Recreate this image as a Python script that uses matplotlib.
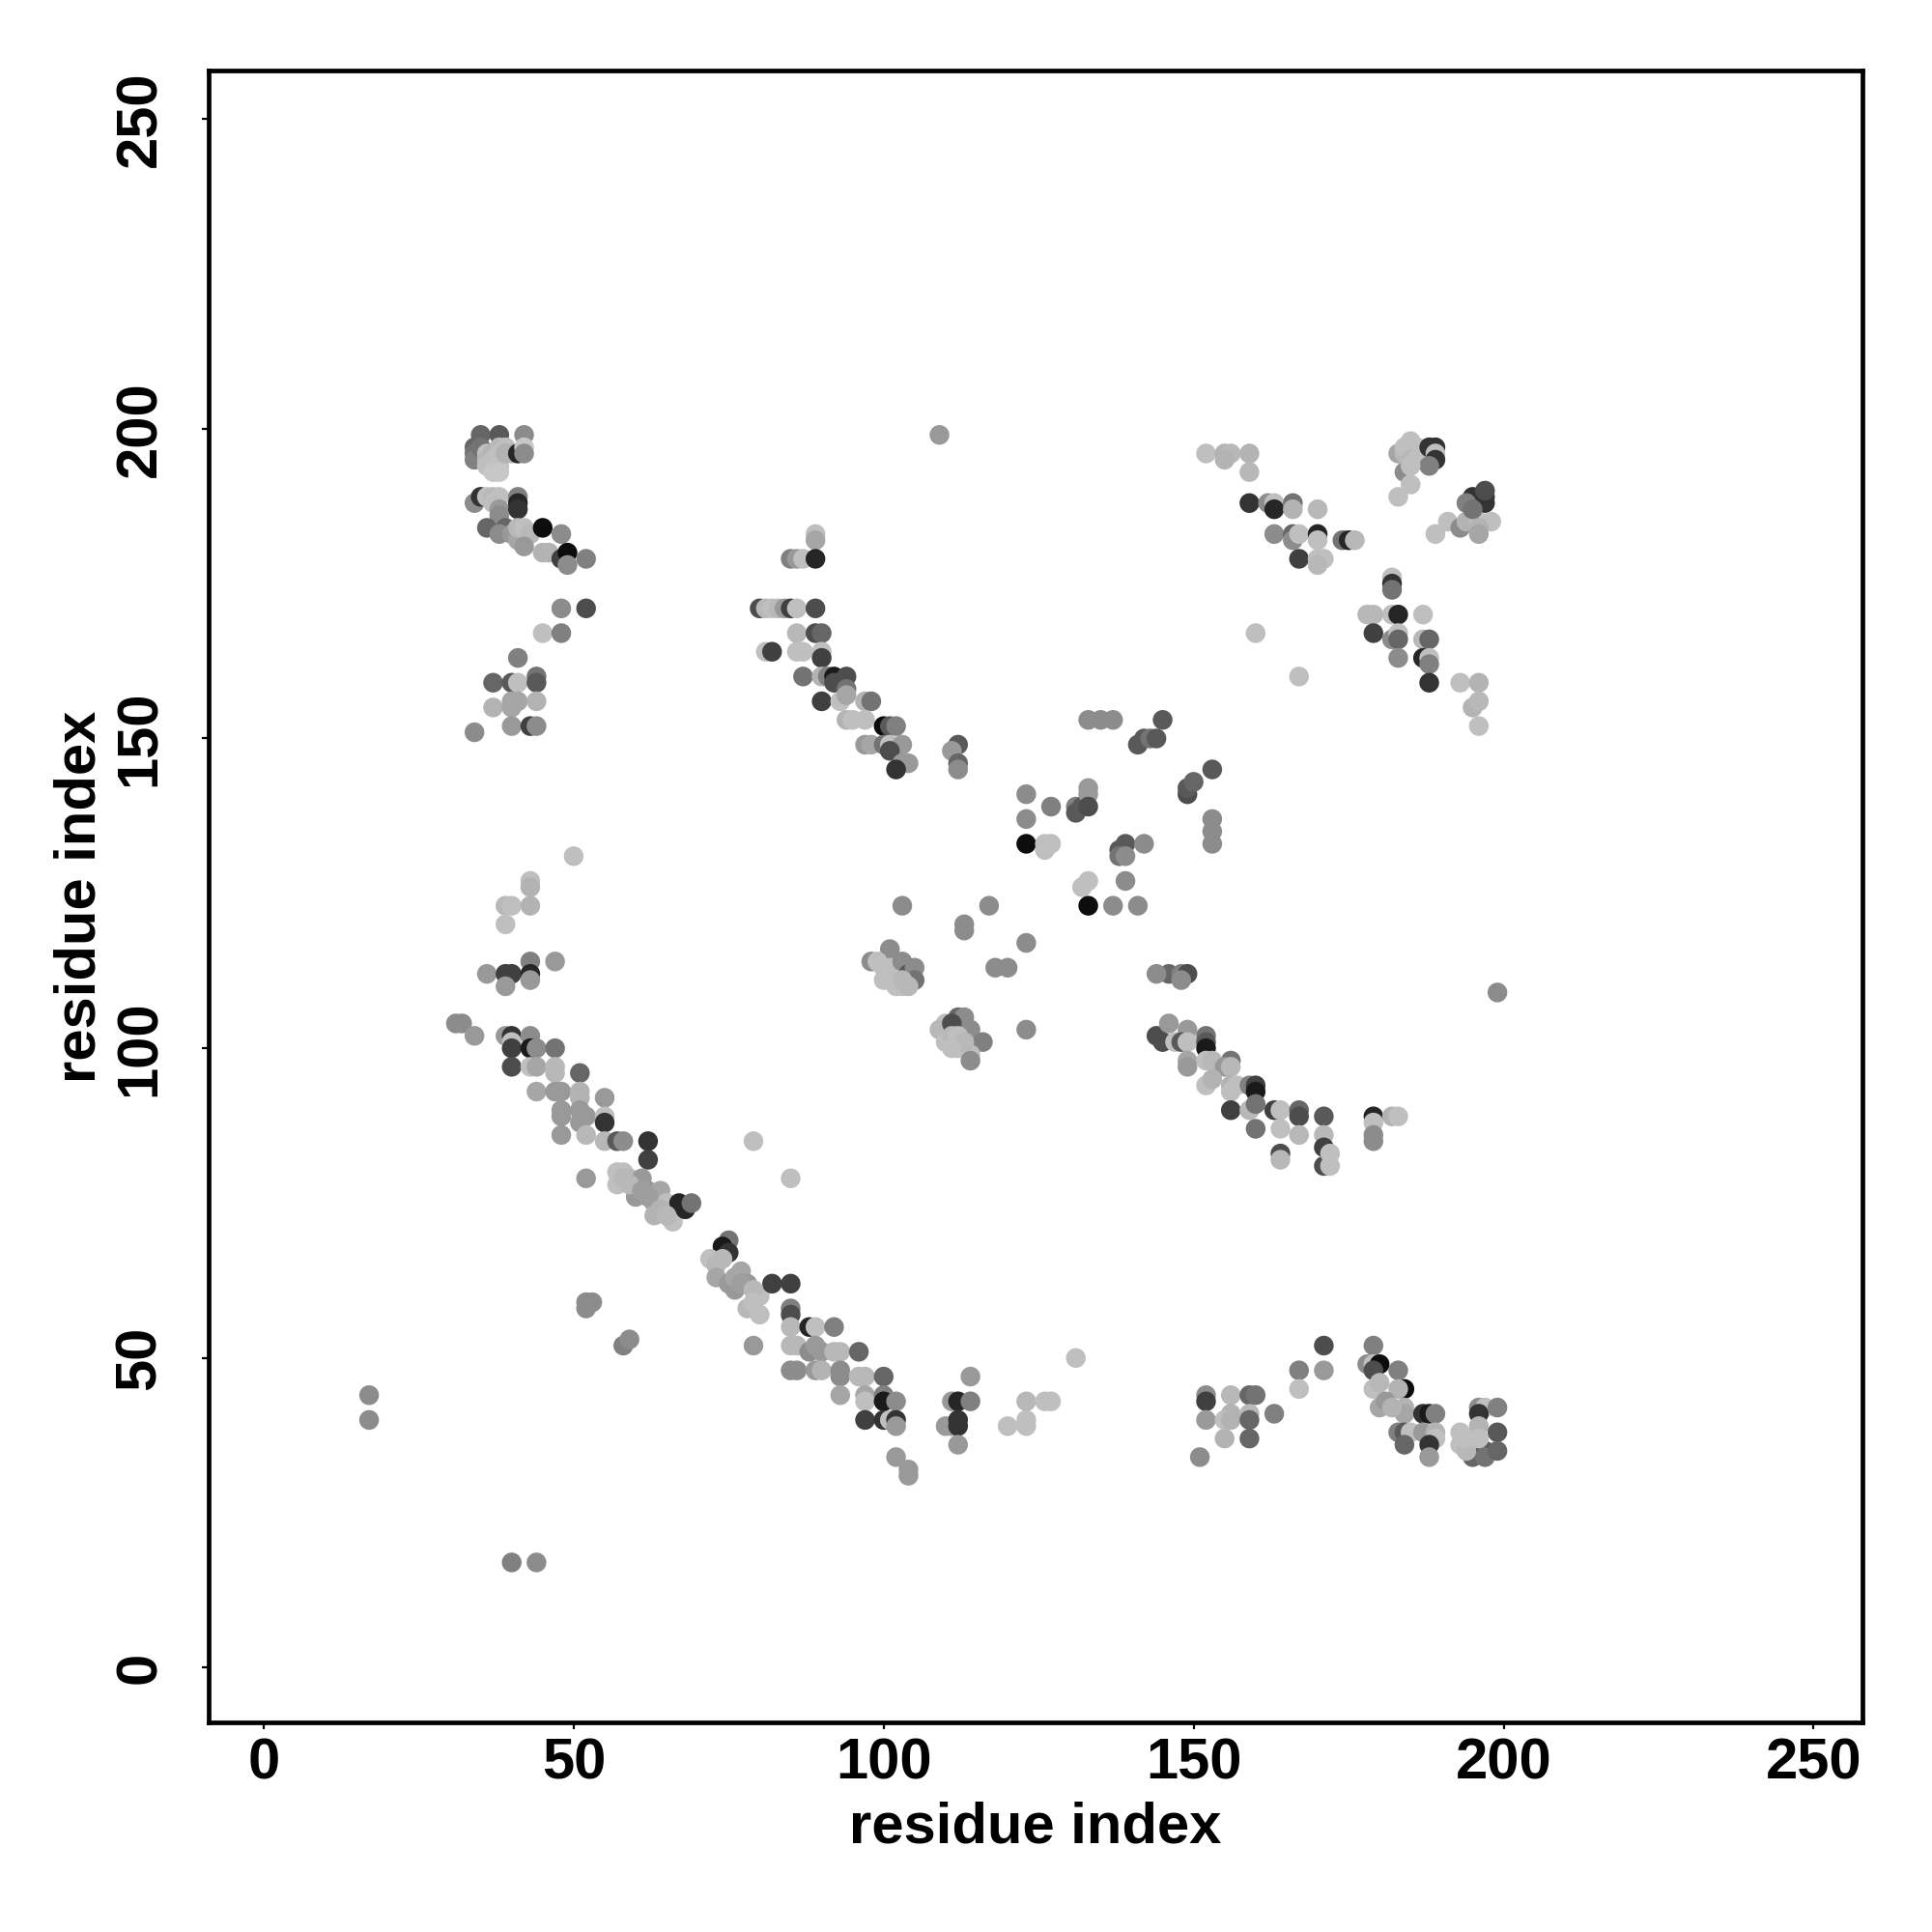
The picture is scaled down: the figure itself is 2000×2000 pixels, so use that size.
import matplotlib
matplotlib.use("Agg")
import matplotlib.pyplot as plt

plt.rcParams['font.family'] = ['Liberation Sans', 'DejaVu Sans']
plt.rcParams['font.weight'] = 'bold'

# (x residue, y residue, grey level 0=black 1=white)
cluster_top_left = [
    (35,199,.40),(38,199,.35),(42,199,.55),
    (34,197,.40),(34,196,.45),(34,195,.50),(35,197,.45),(36,196,.75),(36,195,.72),(36,194,.75),
    (37,196,.70),(37,195,.75),(37,194,.75),(37,193,.78),(38,197,.72),(38,196,.75),(38,194,.76),
    (38,193,.78),(39,197,.75),(39,196,.70),(40,196,.70),(41,196,.15),(42,197,.78),(42,196,.55),
    (34,188,.55),(35,189,.20),(36,189,.75),(37,189,.72),(38,189,.75),(37,188,.75),(38,187,.60),
    (41,189,.50),(41,188,.15),(41,187,.20),(38,186,.55),
    (36,184,.40),(39,184,.40),(38,183,.55),(40,183,.60),(41,182,.65),(41,184,.72),(42,184,.75),
    (43,183,.72),(45,184,.05),(48,183,.55),
    (42,181,.60),(45,180,.70),(46,180,.70),(48,179,.25),(49,180,.05),(49,178,.55),(52,179,.50),
]
cluster_left_mid = [
    (48,171,.55),(52,171,.30),(45,167,.75),(48,167,.50),(41,163,.50),
    (37,159,.40),(40,159,.35),(41,159,.75),(44,160,.45),(44,159,.35),
    (37,155,.70),(40,156,.65),(41,156,.65),(44,156,.70),(40,155,.65),
    (40,152,.60),(43,152,.25),(44,152,.55),(34,151,.55),
]
cluster_arc_top = [
    (89,183,.75),(89,182,.65),(85,179,.50),(86,179,.60),(87,179,.75),(89,179,.15),
    (80,171,.30),(81,171,.72),(82,171,.75),(83,171,.72),(84,171,.60),(85,171,.25),(86,171,.75),(89,171,.30),
    (86,167,.72),(89,167,.30),(90,167,.40),
    (81,164,.75),(82,164,.25),(86,164,.75),(87,164,.75),(90,164,.75),(90,163,.25),
    (87,160,.45),(90,160,.70),(91,160,.50),(92,160,.10),(94,160,.30),(92,159,.30),(94,158,.45),
    (90,156,.25),(93,156,.75),(94,157,.65),(97,156,.70),(98,156,.45),
    (94,153,.70),(95,153,.75),(97,153,.75),(100,152,.05),(101,152,.35),(102,152,.50),
    (97,149,.60),(98,149,.65),(100,149,.45),(101,149,.75),(103,149,.60),(101,148,.30),
    (103,146,.60),(104,146,.60),(102,145,.20),
    (112,149,.35),(111,148,.60),(112,146,.40),(112,145,.55),
]
cluster_center = [
    (133,153,.55),(135,153,.55),(137,153,.55),(145,153,.35),
    (141,149,.35),(142,150,.35),(143,150,.45),(144,150,.35),
    (149,141,.30),(149,142,.35),(150,143,.40),(153,145,.35),
    (153,137,.55),(153,135,.55),(153,133,.55),
    (123,141,.55),(123,137,.55),(123,133,.05),(126,133,.75),(127,133,.75),(126,132,.75),(127,139,.50),
    (131,139,.50),(131,138,.35),(132,139,.35),(133,142,.60),(133,141,.60),(133,139,.30),
    (139,133,.35),(138,132,.35),(138,131,.45),(139,131,.55),(142,133,.55),
    (133,127,.75),(132,126,.75),(139,127,.55),(133,123,.05),(137,123,.55),(141,123,.55),
    (103,123,.55),(117,123,.55),(113,120,.55),(113,119,.55),(123,117,.55),(118,113,.55),
    (120,113,.55),(123,103,.55),
]
cluster_blobs = [
    (101,116,.55),(98,114,.55),(99,114,.75),(100,113,.75),(101,113,.75),(102,112,.75),(103,114,.55),
    (104,112,.35),(105,113,.55),(102,110,.75),(103,110,.75),(100,111,.75),(105,111,.45),(104,110,.72),
    (101,111,.75),(102,111,.75),(103,111,.72),
    (112,105,.40),(113,105,.55),(110,104,.75),(109,103,.72),(114,103,.55),(116,101,.50),(111,104,.30),
    (110,101,.75),(112,100,.75),(114,99,.75),(114,98,.55),(111,102,.72),(112,102,.75),(113,101,.72),
    (111,100,.75),
]
cluster_right_arc = [
    (146,112,.40),(148,112,.50),(149,112,.30),(148,111,.55),(144,112,.55),
    (144,102,.30),(146,104,.60),(149,103,.60),(145,101,.30),(147,101,.75),(148,101,.35),(149,101,.75),
    (152,102,.45),(152,101,.35),(152,100,.10),
    (149,98,.65),(149,97,.60),(152,98,.75),(153,98,.72),(156,98,.45),(155,97,.60),(156,97,.72),
    (152,94,.75),(153,95,.70),(156,94,.70),(157,94,.75),(159,94,.50),(160,94,.25),(160,93,.10),(156,93,.75),
    (156,90,.25),(159,90,.72),(160,91,.45),(163,90,.25),(164,90,.75),(167,90,.40),(167,89,.30),
    (171,89,.35),(179,89,.15),(182,89,.70),(183,89,.75),
    (160,87,.45),(164,87,.75),(167,86,.72),(171,86,.72),(179,88,.75),(179,86,.55),
    (164,83,.30),(164,82,.72),(171,84,.25),(171,81,.30),(172,83,.75),(172,81,.75),(179,85,.55),
]
cluster_top_right = [
    (152,196,.75),(155,196,.70),(156,196,.72),(155,195,.70),(159,196,.70),(159,193,.72),
    (159,188,.20),(162,188,.55),(163,188,.75),(163,187,.15),(166,188,.45),(166,187,.70),(170,187,.72),
    (163,183,.55),(166,183,.40),(166,182,.55),(167,183,.75),(170,183,.15),(170,182,.75),(174,182,.45),
    (175,182,.15),(176,182,.72),
    (167,179,.25),(170,179,.75),(171,179,.75),(170,178,.72),
    (185,198,.75),(183,196,.65),(184,196,.72),(184,197,.75),(185,196,.75),(186,197,.75),(185,195,.72),
    (186,195,.75),(188,197,.20),(189,197,.20),(189,196,.75),(189,195,.20),(188,194,.50),(184,193,.55),
    (185,194,.75),(185,191,.75),(183,189,.75),
    (191,185,.75),(189,183,.75),(193,184,.55),(195,189,.20),(197,189,.20),(197,188,.20),(194,188,.50),
    (194,185,.70),(196,185,.75),(198,185,.75),(196,184,.70),(196,183,.65),(197,190,.30),(195,187,.45),
    (182,176,.75),(182,175,.20),(182,174,.45),
    (178,170,.72),(179,170,.72),(182,170,.75),(183,170,.15),(187,170,.75),
    (179,167,.25),(182,166,.55),(183,167,.75),(183,166,.40),(187,166,.72),(188,166,.40),
    (183,163,.55),(187,163,.15),(188,163,.75),(188,162,.50),
    (188,159,.20),(193,159,.75),(196,159,.70),
    (195,155,.70),(196,156,.72),(196,152,.75),
    (160,167,.75),(167,160,.75),
]
cluster_left_arc = [
    (50,131,.75),(43,127,.75),(43,126,.70),(39,123,.72),(40,123,.75),(43,123,.70),(39,120,.75),
    (43,114,.50),(47,114,.60),(36,112,.60),(39,112,.25),(40,112,.25),(43,112,.15),(39,110,.60),(43,111,.60),
    (31,104,.55),(32,104,.55),(34,102,.60),
    (39,102,.60),(40,102,.20),(40,101,.75),(40,100,.25),(43,102,.55),(43,100,.10),(44,100,.55),(47,100,.45),
    (40,97,.30),(43,97,.75),(44,97,.65),(47,97,.72),(47,96,.72),(51,96,.40),
    (44,93,.65),(47,93,.60),(48,93,.60),(51,93,.70),(51,92,.70),(55,92,.60),
    (48,90,.60),(48,89,.60),(51,90,.60),(52,89,.60),(51,88,.60),(55,89,.75),(55,88,.20),
    (48,86,.60),(52,86,.72),(55,85,.72),(57,85,.35),(58,85,.55),(62,85,.20),(79,85,.75),
    (62,82,.25),(52,79,.60),(85,79,.75),
    (57,80,.75),(58,80,.75),(59,79,.72),(61,79,.60),(57,78,.75),(60,78,.60),(62,77,.60),(64,77,.65),
    (60,76,.60),(63,75,.65),(63,73,.70),(66,72,.75),(65,75,.75),(67,75,.15),(68,74,.15),(69,75,.45),
    (58,79,.72),(59,78,.72),(61,77,.62),(62,76,.62),(64,74,.70),(65,73,.72),
    (75,69,.45),(74,68,.10),(75,67,.20),(72,66,.75),(73,65,.72),(73,63,.65),(77,64,.65),(75,62,.60),
    (76,61,.60),(78,62,.60),(80,60,.75),(78,58,.72),(80,57,.75),(82,62,.25),(85,62,.25),
    (74,66,.72),(76,63,.65),(77,62,.62),(79,61,.72),(79,59,.75),
    (85,58,.50),(85,57,.30),(85,55,.72),(85,52,.72),(85,48,.55),
    (52,59,.55),(53,59,.55),(52,58,.55),(58,52,.50),(59,53,.55),(79,52,.60),
    (88,55,.15),(89,55,.75),(92,55,.50),
    (86,52,.72),(88,51,.55),(89,52,.60),(90,51,.60),(92,51,.72),(93,51,.72),(96,51,.40),
    (86,48,.55),(89,48,.60),(90,48,.70),(93,48,.55),(93,47,.55),(96,47,.72),(97,47,.72),(100,47,.40),
    (93,44,.65),(97,44,.65),(97,43,.75),(100,44,.50),(100,43,.10),(102,43,.55),
    (97,40,.25),(100,40,.20),(101,40,.75),(102,40,.20),(102,39,.60),
    (102,34,.60),(104,32,.60),(104,31,.60),
]
cluster_bottom_mid = [
    (111,43,.60),(112,43,.15),(114,43,.50),(114,47,.60),(110,39,.60),(111,39,.60),(112,40,.20),
    (112,39,.20),(112,36,.60),
    (120,39,.75),(123,43,.72),(123,40,.75),(123,39,.75),(126,43,.75),(127,43,.75),(131,50,.75),
]
cluster_bottom_right = [
    (152,44,.55),(152,43,.25),(152,40,.60),(151,34,.55),(156,44,.72),(156,41,.70),(155,40,.75),
    (156,40,.70),(155,37,.70),(159,44,.40),(160,44,.45),(159,41,.72),(159,40,.40),(159,37,.40),(163,41,.50),
    (167,48,.50),(167,45,.75),(171,52,.30),(171,48,.60),
    (179,52,.50),(178,49,.55),(179,49,.75),(180,49,.05),(179,48,.30),(183,48,.50),
    (179,45,.75),(180,46,.72),(180,42,.65),(184,45,.05),(183,45,.70),(184,42,.70),(184,41,.65),
    (181,43,.60),(182,42,.70),
    (183,38,.50),(184,38,.35),(185,38,.75),(184,36,.40),
    (187,41,.20),(188,41,.10),(189,41,.50),(187,38,.60),(189,38,.70),(189,37,.75),(188,36,.20),(188,34,.60),
    (193,38,.75),(193,36,.75),(195,37,.72),(196,42,.55),(197,42,.75),(196,41,.20),(199,42,.50),
    (196,39,.70),(199,38,.35),(195,34,.40),(197,35,.35),(197,34,.45),(199,35,.40),(194,35,.72),
    (194,37,.75),(196,37,.75),
]
outliers = [
    (17,44,.55),(17,40,.55),(40,17,.50),(44,17,.55),(199,109,.55),(109,199,.60),
]

clusters = [cluster_top_left, cluster_left_mid, cluster_arc_top, cluster_center, cluster_blobs,
            cluster_right_arc, cluster_top_right, cluster_left_arc, cluster_bottom_mid,
            cluster_bottom_right, outliers]

x_ticks = [0, 50, 100, 150, 200, 250]
y_ticks = [0, 50, 100, 150, 200, 250]
axis_label = "residue index"
n_res = 248

fig = plt.figure(figsize=(10, 10), dpi=200)
ax = fig.add_axes([0.108, 0.1083, 0.856, 0.8554])

for cl in clusters:
    xs = [p[0] for p in cl]
    ys = [p[1] for p in cl]
    cols = [(p[2], p[2], p[2]) for p in cl]
    ax.scatter(xs, ys, c=cols, s=54, edgecolors='none', zorder=3)

pad = 0.04 * (n_res - 1)
ax.set_xlim(1 - pad, n_res + pad)
ax.set_ylim(1 - pad, n_res + pad)

ax.set_xticks(x_ticks)
ax.set_yticks(y_ticks)
ax.set_xticklabels([str(t) for t in x_ticks], fontsize=21.5, fontweight='bold')
ax.set_yticklabels([str(t) for t in y_ticks], fontsize=21.5, fontweight='bold',
                   rotation=90, va='center')
ax.tick_params(axis='x', direction='out', length=2.5, width=0.8, pad=3)
ax.tick_params(axis='y', direction='out', length=2.5, width=0.8, pad=13)
for sp in ax.spines.values():
    sp.set_linewidth(1.7)

fig.text(0.536, 0.054, axis_label, ha='center', va='center', fontsize=21.5, fontweight='bold')
fig.text(0.0415, 0.536, axis_label, ha='center', va='center', fontsize=21.5,
         fontweight='bold', rotation=90)

fig.savefig("out.png", dpi=200, facecolor='white')
